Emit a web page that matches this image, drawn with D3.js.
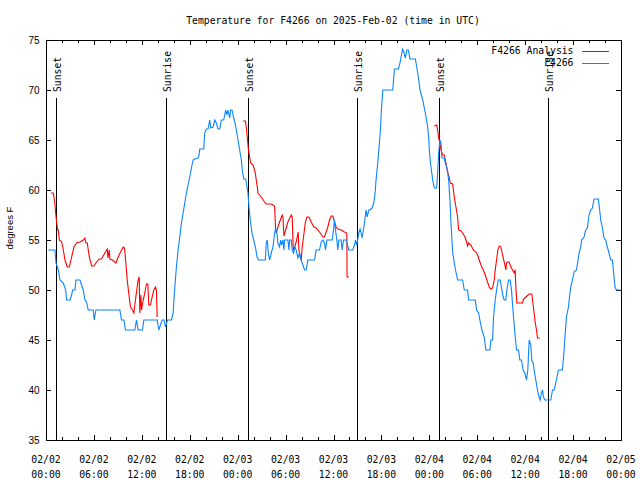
<!DOCTYPE html>
<html><head><meta charset="utf-8">
<script src="https://cdn.jsdelivr.net/npm/d3@7"></script>
<style>
html,body{margin:0;padding:0;background:#fff;}
svg{display:block;}
.mono{font-family:"DejaVu Sans Mono",monospace;font-size:9.75px;fill:#000;}
.sans{font-family:"Liberation Sans",Arial,sans-serif;font-size:10px;fill:#000;}
</style></head>
<body>
<script>
// ---- data (hours since 2025-02-02 00:00 UTC, degrees F) ----
const titleText = "Temperature for F4266 on 2025-Feb-02 (time in UTC)";
const yLabelText = "degrees F";
const seriesNames = ["F4266 Analysis", "F4266"];
const seriesColors = ["#ff0000", "#0b84ff"];
const yTicks = [35, 40, 45, 50, 55, 60, 65, 70, 75];
const xMajorHours = [0, 6, 12, 18, 24, 30, 36, 42, 48, 54, 60, 66, 72];
const xMinorHours = [2, 4, 8, 10, 14, 16, 20, 22, 26, 28, 32, 34, 38, 40, 44, 46, 50, 52, 56, 58, 62, 64, 68, 70];
const sunHours = [1.3, 15.0, 25.27, 38.9, 49.27, 62.9];
const sunLabels = ["Sunset", "Sunrise", "Sunset", "Sunrise", "Sunset", "Sunrise"];

const analysisSeg1 = [[0.625,59.7],[0.92,59.7],[1.0,59.3],[1.125,58.5],[1.21,57.7],[1.33,56.8],[1.46,56],[1.54,56],[1.67,55],[1.96,54.8],[2.17,54],[2.375,53],[2.67,52.3],[2.92,52.3],[3.21,53.3],[3.5,54.3],[3.83,54.7],[4.25,54.8],[4.67,55],[4.875,55.2],[5.0,54.7],[5.17,54.7],[5.42,53.3],[5.71,52.4],[6.0,52.4],[6.33,52.8],[6.67,53.1],[6.96,53.1],[7.375,53.7],[7.67,54.1],[7.75,53.2],[7.92,54],[8.0,53.1],[8.33,53],[8.75,52.7],[9.04,53.3],[9.33,53.8],[9.67,54.3],[9.83,54.2],[10.0,52.7],[10.17,51],[10.42,49.3],[10.58,48.3],[10.83,48],[11.0,47.7],[11.125,48.5],[11.33,49.8],[11.54,51],[11.67,51.3],[11.75,47.7],[11.875,49.5],[11.96,48],[12.17,49],[12.375,49.7],[12.58,50.6],[12.75,50.6],[12.875,48.5],[13.08,48.5],[13.29,49.3],[13.5,50],[13.71,50.3],[13.83,50],[13.92,47.3]];
const analysisSeg2 = [[24.67,66.9],[24.96,66.9],[25.08,66.3],[25.21,65.2],[25.33,64.2],[25.5,63.3],[25.625,62.7],[25.92,62.5],[26.04,62.2],[26.21,61.7],[26.33,61],[26.46,60.3],[26.54,59.7],[26.75,59.5],[27.04,59.2],[27.375,58.8],[27.58,58.6],[28.21,58.6],[28.625,58.4],[28.75,56],[28.83,55.7],[29.04,56.3],[29.25,56.8],[29.58,57.5],[29.67,57.3],[29.79,55.4],[30,56],[30.29,56.8],[30.71,57.5],[30.83,57.3],[30.96,54],[31.125,54.3],[31.33,54.8],[31.58,55.8],[31.67,54],[31.83,53.3],[31.96,53],[32.08,54.3],[32.25,55.3],[32.46,56.7],[32.67,57.3],[32.92,57.3],[33.21,56.8],[33.54,56.3],[33.83,56.2],[34.25,55.8],[34.67,55.3],[34.875,55.3],[35.08,55.8],[35.29,56.3],[35.5,57],[35.71,57.4],[35.92,57.4],[36.125,56.8],[36.33,56.3],[36.54,56.1],[36.96,56],[37.375,55.8],[37.67,55.7],[37.7,51.3],[37.92,51.3]];
const analysisSeg3 = [[48.625,66.4],[48.92,66.5],[49.04,66],[49.17,65.2],[49.33,64.7],[49.46,64],[49.67,63.5],[49.875,63.5],[50,63],[50.17,62.3],[50.29,61.8],[50.5,61.2],[50.625,60.7],[50.92,60.6],[51.125,59.3],[51.33,58.3],[51.54,57.3],[51.67,56],[51.96,55.9],[52.17,55.7],[52.46,55.3],[52.67,54.8],[52.79,54.4],[52.92,54.7],[53.21,54.5],[53.5,54],[53.83,53.8],[54.04,53.5],[54.25,53],[54.46,52.5],[54.75,52],[55,51.5],[55.29,50.8],[55.5,50.3],[55.71,50.1],[55.92,50.2],[56.125,51],[56.25,52],[56.42,53],[56.58,54],[56.75,54.4],[56.96,54.3],[57.17,53.5],[57.375,52.8],[57.58,52],[57.67,52.7],[57.79,52.8],[58,52.8],[58.21,52.3],[58.42,52],[58.625,51.7],[58.75,52],[58.83,50.3],[58.96,48.7],[59.67,48.7],[59.79,49.1],[60.08,49.3],[60.5,49.6],[60.83,49.6],[61,48.5],[61.125,47.7],[61.25,46.8],[61.42,46],[61.54,45.2],[61.83,45.2]];

const observed = [[0.29,54],[1.125,54],[1.25,52.7],[1.54,52],[1.75,51],[2.17,50.7],[2.46,50],[2.58,49],[3.0,49],[3.21,49.5],[3.33,50],[3.625,50],[3.75,51],[4.25,51],[4.46,50.5],[4.67,50],[4.875,49],[5.08,48.8],[5.29,48],[5.92,48],[6.04,47],[6.25,48],[9.25,48],[9.46,47],[9.75,47],[9.96,46],[11.125,46],[11.33,47],[11.54,46],[12.08,46],[12.25,47],[13.92,47],[14.125,46],[14.33,46.5],[14.54,47],[14.79,47],[14.96,46.3],[15.21,47],[15.71,47],[15.92,47.7],[16.04,49.3],[16.2,51],
[16.33,52.3],[16.54,54],[16.75,55.3],[16.96,56.7],[17.17,57.7],[17.375,58.7],[17.58,59.7],[17.79,60.5],[18,61.3],[18.21,62.2],[18.42,63],[18.625,63.1],[19.04,63.2],[19.17,63.5],[19.25,64.1],[19.75,64.1],[19.875,65.7],[20.08,66.1],[20.29,66.1],[20.5,67],[20.625,66.2],[20.92,66.3],[21.125,67],[21.33,66.7],[21.54,66.1],[21.75,66.1],[21.96,67],[22.25,67],[22.5,68],[22.67,67.5],[22.79,68],[23,67.2],[23.125,68],[23.29,68],[23.5,67.2],[23.67,66.7],[23.83,66],[24.04,65],[24.25,64],[24.46,63],[24.58,62],[24.75,61.1],[25,61.1],[25.17,60.3],[25.29,59.7],[25.42,58.3],[25.58,57],[25.79,55.7],[26,55],[26.25,54.2],[26.42,53.3],[26.625,53],[27.46,53],[27.58,54.7],[27.71,55],[27.83,53.7],[28,53],[28.21,53.7],[28.42,54.3],[28.625,55.7],[28.75,56.2],[28.92,55.7],[29.04,54.7],[29.25,54.3],[29.375,55],[29.5,54.5],[29.67,55],[29.79,54],[29.875,55],[30.29,55],[30.42,54],[30.5,55],[30.71,55],[30.83,54],[31,53.7],[31.17,54.3],[31.33,54],[31.54,53.2],[31.75,53.7],[31.96,53],[32.17,52.5],[32.375,52],[32.58,52],[32.79,53],[33.625,53],[33.83,54],[34.04,54],
[34.25,54],[34.46,54.8],[34.67,55],[34.875,54.7],[35,54],[35.17,55],[35.83,55],[36,56],[36.125,57],[36.25,56],[36.42,55],[36.54,54],[36.67,55],[36.96,55],[37.08,54],[37.25,55],[37.58,55],[37.75,54.5],[37.92,54],[38.42,54],[38.625,54.5],[38.75,55],[38.92,54.5],[39.17,55.7],[39.33,56.1],[39.46,55.7],[39.58,55.2],[39.75,56],[39.875,56.7],[40.08,58],[40.21,57.3],[40.42,58],[40.58,58],[40.83,58.2],[41.04,58.7],
[41.21,59.7],[41.33,61],[41.54,62.7],[41.75,64.7],[41.875,66],[42,68],[42.17,70],[43.42,70],[43.625,72.1],[44.125,72.1],[44.33,72.7],[44.5,73.5],[44.67,74.1],[44.83,73.7],[45,73.2],[45.17,74],[45.375,74],[45.58,73.1],[46.25,73.1],[46.42,72.3],[46.625,71.3],[46.83,70],
[47.17,69],[47.5,67.7],[47.79,66.3],[47.92,65.2],[48,64],[48.125,62.8],[48.29,61.8],[48.42,61],[48.625,60.2],[48.92,60.2],[49.04,61.7],[49.17,63.7],[49.33,65],[49.46,64.7],[49.58,63.2],[49.875,63.2],[50,62.7],[50.21,62.2],[50.42,61],[50.58,59],[50.71,56.7],[50.92,53.8],[51.125,52.7],[51.33,51.8],[51.54,51],[52.17,51],[52.375,50],[52.79,50],[52.92,49],[53.75,49],[53.92,48],[54.17,47.7],[54.33,47],[54.58,46],[54.875,45.3],[55.08,44],[55.58,44],[55.71,45],[55.92,45],[56.04,47.3],[56.25,49],[56.42,50],[56.625,51],[56.875,51],[57.04,50.2],[57.25,49.3],[57.375,49],[57.58,49],[57.71,50],[57.92,51],[58.125,51],[58.29,50],[58.5,47.7],[58.71,45.7],[58.92,44],[59.17,44],[59.33,43],[59.54,43],[59.75,42],[59.96,41.7],[60.17,41],[60.33,42],[60.5,45],[60.71,44.5],[60.83,43],[61,42.7],[61.125,42],[61.33,41],[61.54,40],[61.75,39.3],[61.875,39],[62.04,39.7],[62.17,40],[62.29,39.3],[62.46,39],[63.21,39],[63.42,40],[63.625,40],[63.83,40.7],[64.04,41.5],[64.17,42],[64.67,42],[64.875,44],[65,45.5],[65.17,47.3],[65.42,48.3],[65.58,49.5],[65.71,50.3],[65.92,51],[66.125,51.8],[66.42,52],[66.625,53],[66.75,53.7],[66.96,54.3],[67.08,55],[67.375,55.3],[67.58,56],[67.79,56.2],[68,57.5],[68.21,58],[68.42,58.2],[68.625,59.1],[69.17,59.1],[69.33,58],[69.46,57],[69.67,56.2],[69.875,55.2],[70.08,55],[70.29,54.3],[70.5,53.7],[70.71,53],[70.92,53],[71.125,51.3],[71.25,50.3],[71.42,50],[71.875,50]];

// ---- drawing ----
const W = 640, H = 480;
const pLeft = 46, pRight = 621, pTop = 40, pBottom = 440;
const t0 = Date.UTC(2025, 1, 2, 0, 0);
const toDate = h => new Date(t0 + h * 3600e3);

const x = d3.scaleUtc().domain([toDate(0), toDate(72)]).range([pLeft, pRight]);
const y = d3.scaleLinear().domain([35, 75]).range([pBottom, pTop]);

const svg = d3.select("body").append("svg").attr("width", W).attr("height", H);

// title
svg.append("text").attr("class", "mono").attr("x", 333).attr("y", 24)
  .attr("text-anchor", "middle").text(titleText);

// y label
svg.append("text").attr("class", "sans").style("font-size", "9.5px")
  .attr("transform", "translate(13,228) rotate(-90)")
  .attr("text-anchor", "middle").text(yLabelText);

// axes ticks (inward, mirrored)
const gA = svg.append("g").attr("shape-rendering", "crispEdges");
gA.append("g").attr("transform", `translate(0,${pBottom})`)
  .call(d3.axisBottom(x).tickValues(xMajorHours.map(toDate)).tickSize(-5).tickSizeOuter(0).tickFormat(""));
gA.append("g").attr("transform", `translate(0,${pBottom})`)
  .call(d3.axisBottom(x).tickValues(xMinorHours.map(toDate)).tickSize(-3).tickSizeOuter(0).tickFormat(""));
gA.append("g").attr("transform", `translate(0,${pTop})`)
  .call(d3.axisTop(x).tickValues(xMajorHours.map(toDate)).tickSize(-5).tickSizeOuter(0).tickFormat(""));
gA.append("g").attr("transform", `translate(0,${pTop})`)
  .call(d3.axisTop(x).tickValues(xMinorHours.map(toDate)).tickSize(-3).tickSizeOuter(0).tickFormat(""));
gA.append("g").attr("transform", `translate(${pLeft},0)`)
  .call(d3.axisLeft(y).tickValues(yTicks).tickSize(-5).tickSizeOuter(0).tickFormat(""));
gA.append("g").attr("transform", `translate(${pRight},0)`)
  .call(d3.axisRight(y).tickValues(yTicks).tickSize(-5).tickSizeOuter(0).tickFormat(""));
gA.selectAll(".domain").remove();
gA.selectAll(".tick line").attr("stroke", "#000");

// y tick labels
svg.append("g").selectAll("text").data(yTicks).join("text")
  .attr("class", "sans").attr("x", 39.5).attr("y", d => y(d)).attr("dy", "0.35em")
  .attr("text-anchor", "end").text(d => d);

// x tick labels (two lines)
const fDate = d3.utcFormat("%m/%d"), fTime = d3.utcFormat("%H:%M");
const xl = svg.append("g").selectAll("text").data(xMajorHours).join("text")
  .attr("class", "mono").attr("text-anchor", "middle");
xl.append("tspan").attr("x", d => x(toDate(d))).attr("y", 463).text(d => fDate(toDate(d)));
xl.append("tspan").attr("x", d => x(toDate(d))).attr("y", 478).text(d => fTime(toDate(d)));

// sunrise/sunset lines
const gs = svg.append("g");
gs.selectAll("line").data(sunHours).join("line")
  .attr("shape-rendering", "crispEdges")
  .attr("x1", d => Math.round(x(toDate(d))) + 0.5).attr("x2", d => Math.round(x(toDate(d))) + 0.5)
  .attr("y1", 98).attr("y2", pBottom).attr("stroke", "#000").attr("stroke-width", 1);
gs.selectAll("text").data(sunHours).join("text")
  .attr("class", "mono")
  .attr("transform", d => `translate(${Math.round(x(toDate(d))) + 0.5},92) rotate(-90)`)
  .attr("x", 0).attr("y", 4).attr("text-anchor", "start")
  .text((d, i) => sunLabels[i]);

// data lines
const line = d3.line().x(d => x(toDate(d[0]))).y(d => y(d[1]));
const gl = svg.append("g").attr("fill", "none").attr("stroke-width", 1.1).attr("stroke-linejoin", "miter");
[analysisSeg1, analysisSeg2, analysisSeg3].forEach(seg => {
  gl.append("path").attr("d", line(seg)).attr("stroke", seriesColors[0]);
});
gl.append("path").attr("d", line(observed)).attr("stroke", seriesColors[1]);

// border
svg.append("rect").attr("shape-rendering", "crispEdges")
  .attr("x", pLeft + 0.5).attr("y", pTop + 0.5).attr("width", pRight - pLeft).attr("height", pBottom - pTop)
  .attr("fill", "none").attr("stroke", "#000");

// legend
const lg = svg.append("g");
seriesNames.forEach((name, i) => {
  const ly = 50.5 + i * 12;
  lg.append("text").attr("class", "mono").attr("x", 573.5).attr("y", ly).attr("dy", "0.35em")
    .attr("text-anchor", "end").text(name);
  lg.append("line").attr("x1", 582).attr("x2", 609).attr("y1", Math.round(ly) + 0.5).attr("y2", Math.round(ly) + 0.5)
    .attr("stroke", seriesColors[i]).attr("stroke-width", 1.1).attr("shape-rendering", "crispEdges");
});
</script>
</body></html>
